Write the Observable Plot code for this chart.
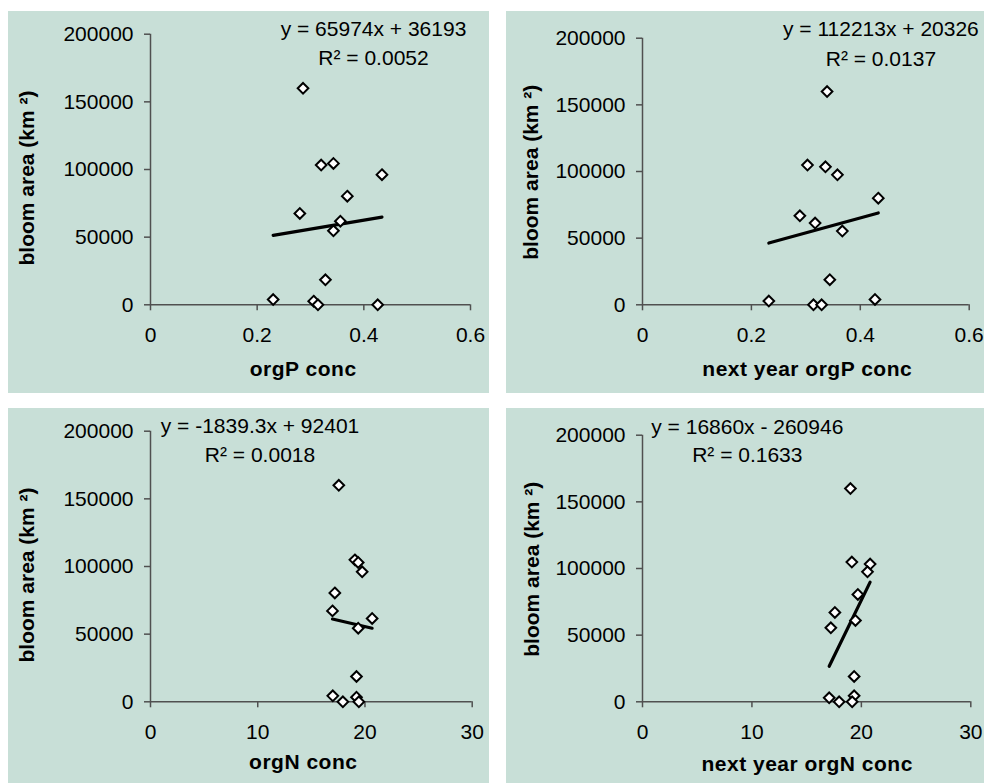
<!DOCTYPE html>
<html><head><meta charset="utf-8">
<script src="https://cdn.jsdelivr.net/npm/d3@7"></script>
<script src="https://cdn.jsdelivr.net/npm/@observablehq/plot@0.6"></script>
<style>
body{margin:0;background:#fff;}
#wrap{position:relative;width:984px;height:783px;overflow:hidden;background:#fff;}
.panel{position:absolute;background:#C8DFD7;overflow:visible;}
.panel svg{overflow:visible;}
.ttl text{letter-spacing:0.5px;}
</style></head><body><div id="wrap"></div>
<script>
// ---- data ----
const orgP       = [0.286, 0.320, 0.343, 0.434, 0.369, 0.280, 0.356, 0.343, 0.328, 0.230, 0.306, 0.314, 0.426];
const bloomOrgP  = [160000, 103300, 104500, 96200, 80300, 67500, 61800, 54700, 18500, 3900, 2700, 0, 0];

const nextOrgP      = [0.339, 0.303, 0.336, 0.358, 0.433, 0.289, 0.317, 0.367, 0.344, 0.232, 0.314, 0.329, 0.427];
const bloomNextOrgP = [160000, 104800, 103500, 97500, 80000, 66800, 61300, 55300, 18800, 2800, 0, 0, 4000];

const orgN       = [17.56, 19.06, 19.37, 19.74, 17.19, 16.97, 20.67, 19.37, 19.21, 17.00, 19.21, 17.94, 19.43];
const bloomOrgN  = [160000, 104900, 103000, 96100, 80500, 67200, 61600, 54400, 18700, 4400, 3400, 0, 0];

const nextOrgN      = [19.00, 19.13, 20.80, 20.56, 19.68, 17.58, 17.21, 19.46, 19.34, 19.34, 17.06, 17.97, 19.16];
const bloomNextOrgN = [160000, 104800, 103300, 97500, 80500, 67000, 55500, 61000, 19000, 4500, 3000, 0, 0];

const slopes     = [65974, 112213, -1839.3, 16860];
const intercepts = [36193, 20326, 92401, -260946];
const equations  = ["y = 65974x + 36193", "y = 112213x + 20326", "y = -1839.3x + 92401", "y = 16860x - 260946"];
const r2Labels   = ["R\u00B2 = 0.0052", "R\u00B2 = 0.0137", "R\u00B2 = 0.0018", "R\u00B2 = 0.1633"];
const xTitles    = ["orgP conc", "next year orgP conc", "orgN conc", "next year orgN conc"];
const yTitle     = "bloom area (km \u00B2)";
const yTicks     = [0, 50000, 100000, 150000, 200000];
const xTicksP    = [0, 0.2, 0.4, 0.6];
const xTicksN    = [0, 10, 20, 30];

// ---- layout ----
const FONT = "'Liberation Sans', Arial, sans-serif";
const FS = 21;
const AX = "#505050";
const panels = [
  {xs: orgP,     ys: bloomOrgP,     ticks: xTicksP, left: 8,   top: 11,  w: 481, h: 382, mt: 22.7, mr: 19,   mb: 88.7, ml: 142,
   eq: [223, -4.7, 24.3], xt: [-7.3, 64.3], yt: [-123, 8.5]},
  {xs: nextOrgP, ys: bloomNextOrgP, ticks: xTicksP, left: 506, top: 11,  w: 478, h: 382, mt: 26.7, mr: 15.3, mb: 88.7, ml: 136,
   eq: [238.4, -8.7, 20.6], xt: [1.4, 64.5], yt: [-111.7, 0.7]},
  {xs: orgN,     ys: bloomOrgN,     ticks: xTicksN, left: 8,   top: 408, w: 481, h: 375, mt: 22.7, mr: 17.3, mb: 81.7, ml: 142,
   eq: [109.5, -5.4, 23.6], xt: [-8.1, 60], yt: [-123.3, 8.5]},
  {xs: nextOrgN, ys: bloomNextOrgN, ticks: xTicksN, left: 506, top: 408, w: 478, h: 375, mt: 26.7, mr: 13.7, mb: 81.7, ml: 136,
   eq: [104.8, -8.4, 20], xt: [0.5, 62.6], yt: [-110.7, 0.7]}
];

const wrap = document.getElementById("wrap");
panels.forEach((p, k) => {
  const data = p.xs.map((x, i) => ({x, y: p.ys[i]}));
  const ext = d3.extent(p.xs);
  const fit = ext.map(x => ({x, y: slopes[k] * x + intercepts[k]}));
  const chart = Plot.plot({
    width: p.w, height: p.h,
    marginTop: p.mt, marginRight: p.mr, marginBottom: p.mb, marginLeft: p.ml,
    style: {background: "transparent", overflow: "visible", fontFamily: FONT, fontSize: FS + "px", color: "#000"},
    x: {domain: [p.ticks[0], p.ticks[p.ticks.length - 1]]},
    y: {domain: [0, 200000]},
    marks: [
      Plot.ruleY([0], {stroke: AX, strokeWidth: 1.5}),
      Plot.ruleX([p.ticks[0]], {stroke: AX, strokeWidth: 1.5}),
      Plot.axisY({ticks: yTicks, tickFormat: d => String(d), tickSize: 6, tickPadding: 11, stroke: AX, strokeWidth: 1.5, fill: "#000", fontSize: FS, label: null}),
      Plot.axisX({ticks: p.ticks, tickFormat: d => String(d), tickSize: 6, tickPadding: 16, stroke: AX, strokeWidth: 1.5, fill: "#000", fontSize: FS, label: null}),
      Plot.line(fit, {x: "x", y: "y", stroke: "#000", strokeWidth: 3.2}),
      Plot.dot(data, {x: "x", y: "y", symbol: "diamond2", r: 4.8, fill: "#fff", stroke: "#000", strokeWidth: 2}),
      Plot.text([equations[k]], {frameAnchor: "top-left", dx: p.eq[0], dy: p.eq[1], textAnchor: "middle", lineAnchor: "middle", fontSize: FS, fill: "#000"}),
      Plot.text([r2Labels[k]], {frameAnchor: "top-left", dx: p.eq[0], dy: p.eq[2], textAnchor: "middle", lineAnchor: "middle", fontSize: FS, fill: "#000"}),
      Plot.text([xTitles[k]], {frameAnchor: "bottom", dx: p.xt[0], dy: p.xt[1], textAnchor: "middle", lineAnchor: "middle", fontSize: FS, fontWeight: "bold", fill: "#000", className: "ttl"}),
      Plot.text([yTitle], {frameAnchor: "left", rotate: -90, dx: p.yt[0], dy: p.yt[1], textAnchor: "middle", lineAnchor: "middle", fontSize: FS, fontWeight: "bold", fill: "#000"})
    ]
  });
  const div = document.createElement("div");
  div.className = "panel";
  div.style.left = p.left + "px"; div.style.top = p.top + "px";
  div.style.width = p.w + "px"; div.style.height = p.h + "px";
  div.appendChild(chart);
  wrap.appendChild(div);
});
</script>
</body></html>
